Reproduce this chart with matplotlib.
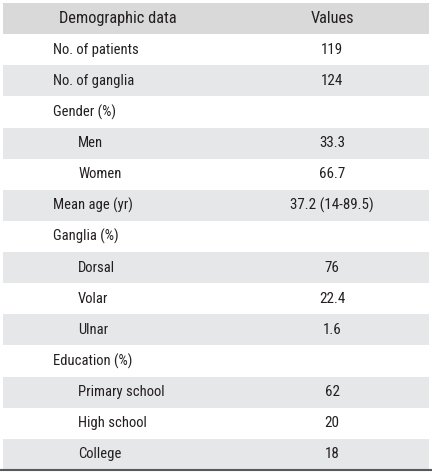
import matplotlib.pyplot as plt
from matplotlib.patches import Rectangle

# table content
header = ["Demographic data", "Values"]
labels = ["No. of patients", "No. of ganglia", "Gender (%)", "Men", "Women",
          "Mean age (yr)", "Ganglia (%)", "Dorsal", "Volar", "Ulnar",
          "Education (%)", "Primary school", "High school", "College"]
values = ["119", "124", "", "33.3", "66.7", "37.2 (14-89.5)", "", "76",
          "22.4", "1.6", "", "62", "20", "18"]
indent = [0, 0, 0, 1, 1, 0, 0, 1, 1, 1, 0, 1, 1, 1]

W, H = 432, 473
top, row_h = 3, 31.13
x_label, x_sub, x_value, x_head = 53, 78, 332, 118
text_color = "#231f20"

plt.rcParams["font.family"] = ["Roboto Condensed", "Liberation Sans Narrow",
                               "DejaVu Sans"]

fig = plt.figure(figsize=(W / 100, H / 100), dpi=100)
ax = fig.add_axes([0, 0, 1, 1])
ax.set_xlim(0, W)
ax.set_ylim(H, 0)
ax.axis("off")

# header band
ax.add_patch(Rectangle((3, top), W - 6, row_h, color="#d9d9da", lw=0))
ax.text(x_head, top + row_h / 2, header[0], ha="center", va="center",
        fontsize=11.8, color=text_color)
ax.text(x_value, top + row_h / 2, header[1], ha="center", va="center",
        fontsize=11.8, color=text_color)

for i, (lab, val, ind) in enumerate(zip(labels, values, indent)):
    y0 = top + (i + 1) * row_h
    yc = y0 + row_h / 2
    if i % 2 == 1:
        ax.add_patch(Rectangle((3, y0), W - 6, row_h, color="#e6e7e8", lw=0))
    ax.text(x_sub if ind else x_label, yc, lab, ha="left", va="center",
            fontsize=10.5, color=text_color)
    if val:
        ax.text(x_value, yc, val, ha="center", va="center",
                fontsize=10.8, color=text_color)

bottom = top + (len(labels) + 1) * row_h
ax.plot([0, W], [bottom, bottom], color="#58595b", lw=1.5)

fig.savefig("out.png", dpi=100)
